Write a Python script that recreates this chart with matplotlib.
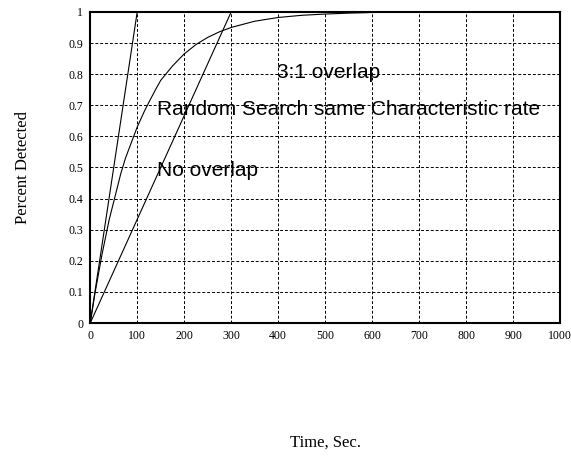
import numpy as np
import matplotlib
matplotlib.use("Agg")
from matplotlib import pyplot as plt
from matplotlib.ticker import FormatStrFormatter, MultipleLocator

# --- data ---
fast_t = [0, 100]          # 3:1 overlap
fast_p = [0, 1]
slow_t = [0, 300]          # no overlap
slow_p = [0, 1]
rand_t = [0, 10, 25, 40, 50, 65, 75, 90, 100, 115, 125, 140, 150, 175, 200, 225, 250,
          275, 300, 350, 400, 450, 500, 550, 600, 680]
rand_p = [0, 0.095, 0.22, 0.33, 0.39, 0.48, 0.53, 0.59, 0.63, 0.68, 0.71, 0.753, 0.78,
          0.826, 0.865, 0.895, 0.918, 0.936, 0.95, 0.97, 0.982, 0.989, 0.993, 0.996,
          0.998, 0.999]

labels = ["3:1 overlap", "Random Search same Characteristic rate", "No overlap"]
label_x = [398, 143, 143]
label_y = [0.805, 0.686, 0.49]

fig = plt.figure(figsize=(5.71, 4.57), dpi=100)
ax = fig.add_axes([0.158, 0.293, 0.823, 0.681])

ax.plot(fast_t, fast_p, color="k", lw=0.8)
ax.plot(slow_t, slow_p, color="k", lw=0.8)
ax.plot(rand_t, rand_p, color="k", lw=0.8)

for s, x, y in zip(labels, label_x, label_y):
    ax.text(x, y, s, family="Liberation Sans", fontsize=15, va="center", ha="left")

ax.set_xlim(0, 1000)
ax.set_ylim(0, 1)
ax.xaxis.set_major_locator(MultipleLocator(100))
ax.yaxis.set_major_locator(MultipleLocator(0.1))
ax.yaxis.set_major_formatter(FormatStrFormatter("%g"))
ax.grid(True, color="k", ls=(0, (3, 2)), lw=0.7)
ax.tick_params(length=0, labelsize=8.5, pad=5)
for lab in ax.get_xticklabels() + ax.get_yticklabels():
    lab.set_family("Liberation Serif")
for sp in ax.spines.values():
    sp.set_linewidth(1.5)

ax.set_xlabel("Time, Sec.", family="Liberation Serif", fontsize=12, labelpad=67)
ax.set_ylabel("Percent Detected", family="Liberation Serif", fontsize=12, labelpad=27)

fig.savefig("out.png", dpi=100)
